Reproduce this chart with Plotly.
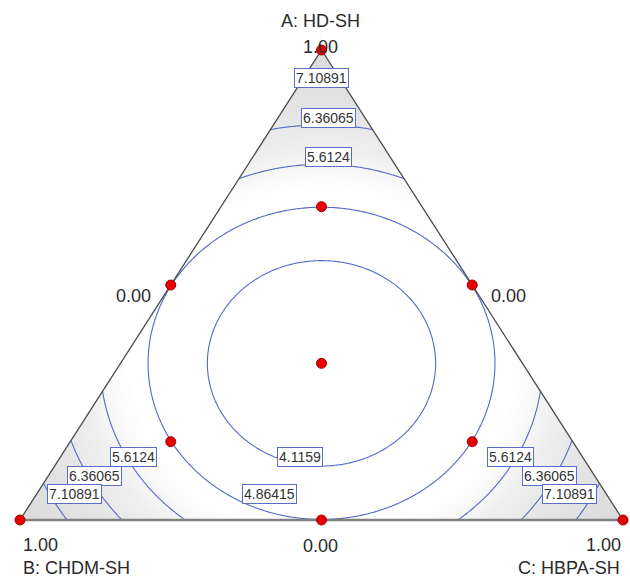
import numpy as np
import plotly.graph_objects as go

# ---- data ----
contour_levels = [4.1159, 4.86415, 5.6124, 6.36065, 7.10891]
level_labels = ["4.1159", "4.86415", "5.6124", "6.36065", "7.10891"]

# fitted (symmetric) response model:
# y = b0 + b1*s + b2*s^2 , with s = AB + AC + BC
model_b0 = 7.742
model_b1 = -7.725
model_b2 = -15.0

# design points (A: HD-SH, B: CHDM-SH, C: HBPA-SH)
design_A = [1.0, 0.0, 0.0, 0.5, 0.5, 0.0, 2/3, 1/6, 1/6, 1/3]
design_B = [0.0, 1.0, 0.0, 0.5, 0.0, 0.5, 1/6, 2/3, 1/6, 1/3]
design_C = [0.0, 0.0, 1.0, 0.0, 0.5, 0.5, 1/6, 1/6, 2/3, 1/3]

axis_names = ["A: HD-SH", "B: CHDM-SH", "C: HBPA-SH"]
tick_texts = ["1.00", "0.00"]

# ---- layout helpers ----
W, H = 630, 577
PX0, PX1, PYB, PYT = 20, 623, 520, 50   # triangle pixel frame


def px(x):
    return x / W


def py(y):
    return 1 - y / H


x_rng = [(0 - PX0) / (PX1 - PX0), (W - PX0) / (PX1 - PX0)]
y_rng = [(PYB - H) / (PYB - PYT), PYB / (PYB - PYT)]


def to_xy(a, b, c):
    a = np.asarray(a, float); c = np.asarray(c, float)
    return c + a / 2, a


def response(a, b, c):
    s = a * b + a * c + b * c
    return model_b0 + model_b1 * s + model_b2 * s ** 2


gx = np.linspace(-0.05, 1.05, 331)
gy = np.linspace(-0.05, 1.05, 331)
GX, GY = np.meshgrid(gx, gy)
GA = GY
GC = GX - GY / 2
GB = 1 - GA - GC
Z = response(GA, GB, GC)

fig = go.Figure()

# light grey shading of the high-response corners
fig.add_trace(go.Heatmap(
    x=gx, y=gy, z=Z, zsmooth="best", showscale=False, hoverinfo="skip",
    zmin=5.1, zmax=7.8,
    colorscale=[[0, "#ffffff"], [0.12, "#fafafa"], [0.3, "#efefef"],
                [0.55, "#e5e5e5"], [1, "#dadada"]],
))

# contour lines
fig.add_trace(go.Contour(
    x=gx, y=gy, z=Z, showscale=False, hoverinfo="skip",
    contours=dict(start=contour_levels[0], end=contour_levels[-1] + 1e-6,
                  size=contour_levels[1] - contour_levels[0],
                  coloring="none", showlabels=False),
    line=dict(color="#5468c8", width=1.1, smoothing=1.3),
))

# white masks outside triangle
for poly in [
    [(-0.3, 0), (0, 0), (0.5, 1), (0.5, 1.3), (-0.3, 1.3)],
    [(1.3, 0), (1, 0), (0.5, 1), (0.5, 1.3), (1.3, 1.3)],
    [(-0.3, 0.0), (1.3, 0.0), (1.3, -0.3), (-0.3, -0.3)],
]:
    xs, ys = zip(*poly)
    fig.add_trace(go.Scatter(x=list(xs), y=list(ys), fill="toself", mode="lines",
                             fillcolor="white", line=dict(width=0, color="white"),
                             hoverinfo="skip", showlegend=False))

# triangle edges
fig.add_trace(go.Scatter(x=[0, 1], y=[0, 0], mode="lines",
                         line=dict(color="#808080", width=2.6),
                         hoverinfo="skip", showlegend=False))
fig.add_trace(go.Scatter(x=[0, 0.5, 1], y=[0, 1, 0], mode="lines",
                         line=dict(color="#4a4a4a", width=1.3),
                         hoverinfo="skip", showlegend=False))

# design points
dx, dy = to_xy(design_A, design_B, design_C)
fig.add_trace(go.Scatter(x=dx, y=dy, mode="markers",
                         marker=dict(color="#e60000", size=10,
                                     line=dict(color="#a00000", width=1)),
                         hoverinfo="skip", showlegend=False))

annotations = []
# contour value labels (boxed)
label_spots = {
    "7.10891": [(321, 78), (74, 494), (569, 494)],
    "6.36065": [(328, 118), (94, 476), (549, 476)],
    "5.6124": [(328, 157), (133, 457), (510, 457)],
    "4.1159": [(300, 457)],
    "4.86415": [(269, 494)],
}
for txt in level_labels:
    for (lx, ly) in label_spots[txt]:
        annotations.append(dict(
            x=px(lx), y=py(ly), xref="paper", yref="paper", text=txt,
            showarrow=False, font=dict(family="Liberation Sans, Arial", size=14, color="#333"),
            bgcolor="white", bordercolor="#5a6cc8", borderwidth=1, borderpad=1,
            xanchor="center", yanchor="middle"))

tfont = dict(family="Liberation Sans, Arial", size=18, color="#2a2a2a")
# axis titles and vertex values
annotations += [
    dict(x=px(320), y=py(21), text=axis_names[0], xanchor="center", yanchor="middle"),
    dict(x=px(320), y=py(47), text=tick_texts[0], xanchor="center", yanchor="middle"),
    dict(x=px(21), y=py(545), text=tick_texts[0], xanchor="left", yanchor="middle"),
    dict(x=px(21), y=py(568), text=axis_names[1], xanchor="left", yanchor="middle"),
    dict(x=px(623), y=py(545), text=tick_texts[0], xanchor="right", yanchor="middle"),
    dict(x=px(622), y=py(568), text=axis_names[2], xanchor="right", yanchor="middle"),
    dict(x=px(320), y=py(546), text=tick_texts[1], xanchor="center", yanchor="middle"),
    dict(x=px(153), y=py(296), text=tick_texts[1], xanchor="right", yanchor="middle"),
    dict(x=px(489), y=py(296), text=tick_texts[1], xanchor="left", yanchor="middle"),
]
for a in annotations[-9:]:
    a.update(xref="paper", yref="paper", showarrow=False, font=tfont)

fig.update_layout(
    width=W, height=H, autosize=False,
    margin=dict(l=0, r=0, t=0, b=0),
    paper_bgcolor="white", plot_bgcolor="white",
    xaxis=dict(range=x_rng, visible=False, fixedrange=True),
    yaxis=dict(range=y_rng, visible=False, fixedrange=True),
    annotations=annotations, showlegend=False,
)

fig.write_html("out.html")
